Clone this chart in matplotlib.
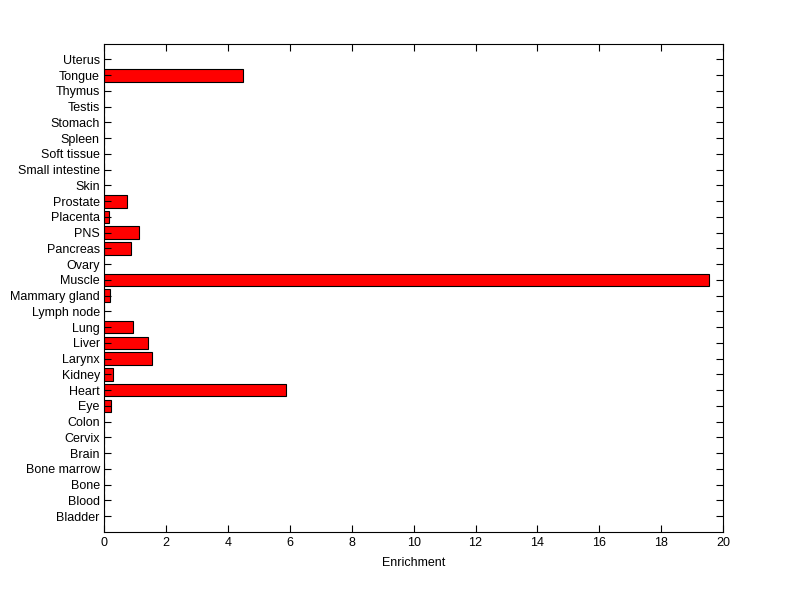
import numpy as np
import matplotlib
matplotlib.use('Agg')
import matplotlib.pyplot as plt

plt.rcParams['font.family'] = ['Liberation Sans', 'DejaVu Sans']

tejidos = ['Bladder', 'Blood', 'Bone', 'Bone marrow', 'Brain', 'Cervix', 'Colon',
           'Eye', 'Heart', 'Kidney', 'Larynx', 'Liver', 'Lung', 'Lymph node',
           'Mammary gland', 'Muscle', 'Ovary', 'Pancreas', 'PNS', 'Placenta',
           'Prostate', 'Skin', 'Small intestine', 'Soft tissue', 'Spleen',
           'Stomach', 'Testis', 'Thymus', 'Tongue', 'Uterus']
enriquecimiento = [0, 0, 0, 0, 0, 0, 0,
                   0.24, 5.89, 0.30, 1.56, 1.43, 0.95, 0,
                   0.19, 19.54, 0, 0.88, 1.14, 0.17,
                   0.75, 0, 0, 0, 0,
                   0, 0, 0, 4.50, 0]

fig = plt.figure(figsize=(8, 5.99), dpi=100)
ax = fig.add_axes([0.13, 0.112, 0.774, 0.815])

pos = np.arange(1, len(tejidos) + 1)
ax.barh(pos, enriquecimiento, height=0.8, color='#ff0000', edgecolor='black', linewidth=0.8)

ax.set_xlim(0, 20)
ax.set_ylim(0, len(tejidos) + 1)
ax.set_xticks(np.arange(0, 21, 2))
ax.set_yticks(pos)
ax.set_yticklabels(tejidos)
ax.tick_params(direction='in', top=True, right=True, length=5, labelsize=9, width=0.8)
ax.tick_params(axis='y', pad=3)
for s in ax.spines.values():
    s.set_linewidth(0.8)
ax.set_xlabel('Enrichment', fontsize=9, labelpad=6)

fig.savefig('out.png', dpi=100)
